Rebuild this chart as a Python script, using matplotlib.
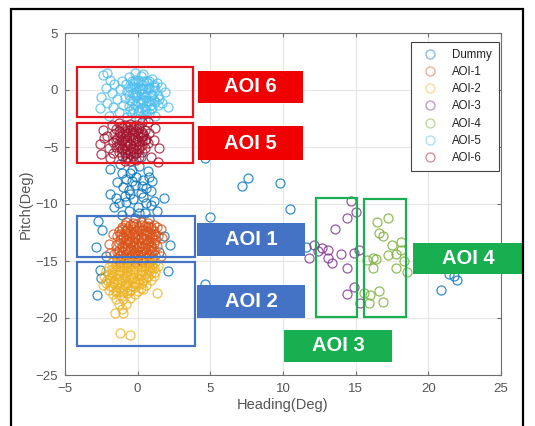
import matplotlib
matplotlib.use("Agg")
import matplotlib.pyplot as plt
from matplotlib.patches import Rectangle
import numpy as np

plt.rcParams['font.family'] = ['Liberation Sans', 'DejaVu Sans']

# ---------------- data (heading, pitch) ----------------
series_names = ["Dummy", "AOI-1", "AOI-2", "AOI-3", "AOI-4", "AOI-5", "AOI-6"]
series_colors = ["#0072BD", "#D95319", "#EDB120", "#7E2F8E", "#77AC30", "#4DBEEE", "#A2142F"]

dummy_pts = [
    (-1.9, -6.9), (-0.5, -7.3), (0.7, -7.1), (-1.2, -6.5), (0.1, -6.7), (-0.8, -7.8), (0.4, -7.9),
    (-0.2, -8.3), (1.0, -8.0), (-1.4, -8.1), (0.3, -8.4), (-0.6, -8.8), (0.9, -8.9), (-1.9, -9.1),
    (-0.9, -9.3), (-0.3, -9.6), (0.4, -9.4), (1.8, -9.5), (1.1, -9.7), (-1.3, -9.9), (0.9, -10.1),
    (-1.6, -10.3), (0.0, -10.3), (-0.6, -10.6), (0.5, -10.8), (1.3, -10.6), (-1.1, -11.0),
    (-0.2, -11.2), (0.8, -11.3), (-2.7, -11.5), (-2.45, -12.3), (-2.9, -13.8), (-2.8, -18.0),
    (-2.5, -16.5), (2.1, -15.9), (2.2, -13.6), (1.8, -12.8), (-2.2, -14.6), (1.5, -14.2),
    (-2.6, -15.8), (-0.7, -6.0), (0.2, -5.9), (-1.0, -8.5), (0.6, -9.9), (-0.4, -7.0),
    (-0.1, -7.6), (0.8, -7.6), (-1.1, -7.3), (-0.4, -8.0), (0.6, -8.6), (-0.8, -9.8),
    (0.2, -9.0), (-1.5, -9.5), (0.1, -10.8), (-0.5, -9.1),
    (4.65, -6.0), (7.2, -8.4), (7.6, -7.7), (9.8, -8.2), (10.5, -10.4), (5.0, -11.1),
    (4.6, -17.0), (20.9, -17.5), (22.0, -16.7), (21.8, -16.3), (21.4, -16.1), (11.6, -13.8),
]

aoi1_pts = [
    (-0.8, -11.6), (-0.3, -11.7), (0.2, -11.55), (0.7, -11.65),
    (-1.1, -12.0), (-0.7, -12.1), (-0.3, -11.95), (0.1, -12.05), (0.5, -11.9), (0.9, -12.05), (1.3, -12.0),
    (-1.3, -12.4), (-0.9, -12.35), (-0.5, -12.45), (-0.1, -12.4), (0.3, -12.3), (0.7, -12.45), (1.1, -12.4),
    (-1.4, -12.8), (-1.0, -12.85), (-0.6, -12.75), (-0.2, -12.8), (0.2, -12.9), (0.6, -12.75), (1.0, -12.8), (1.4, -12.85),
    (-1.2, -13.2), (-0.8, -13.15), (-0.4, -13.25), (0.0, -13.2), (0.4, -13.1), (0.8, -13.25), (1.2, -13.2),
    (-1.5, -13.6), (-1.1, -13.65), (-0.7, -13.55), (-0.3, -13.6), (0.1, -13.7), (0.5, -13.55), (0.9, -13.6), (1.3, -13.65),
    (-1.3, -14.0), (-0.9, -14.05), (-0.5, -13.95), (-0.1, -14.0), (0.3, -14.1), (0.7, -13.95), (1.1, -14.0),
    (-1.6, -14.4), (-1.2, -14.45), (-0.8, -14.35), (-0.4, -14.4), (0.0, -14.5), (0.4, -14.35), (0.8, -14.4), (1.2, -14.45),
    (-1.4, -14.8), (-1.0, -14.85), (-0.6, -14.75), (-0.2, -14.8), (0.2, -14.9), (0.6, -14.75), (1.0, -14.8),
    (-1.2, -15.1), (-0.7, -15.15), (-0.2, -15.05), (0.3, -15.1), (0.8, -15.15),
    (-2.0, -13.5), (-1.9, -14.3), (1.7, -13.0), (1.6, -12.2), (-1.7, -12.6), (1.6, -14.6),
    (-0.9, -11.8), (-0.5, -11.85), (-0.1, -11.75), (0.3, -11.8), (0.7, -11.9), (1.1, -11.8),
    (-1.1, -12.2), (-0.7, -12.25), (-0.3, -12.15), (0.1, -12.2), (0.5, -12.25), (0.9, -12.2),
    (-1.2, -12.6), (-0.8, -12.55), (-0.4, -12.65), (0.0, -12.6), (0.4, -12.55), (0.8, -12.65), (1.2, -12.6),
    (-1.0, -13.0), (-0.6, -13.05), (-0.2, -12.95), (0.2, -13.0), (0.6, -13.05), (1.0, -12.95),
    (-1.3, -13.4), (-0.9, -13.45), (-0.5, -13.35), (-0.1, -13.4), (0.3, -13.45), (0.7, -13.35), (1.1, -13.4),
    (-1.1, -13.8), (-0.7, -13.85), (-0.3, -13.75), (0.1, -13.8), (0.5, -13.85), (0.9, -13.8),
    (-1.4, -14.2), (-1.0, -14.25), (-0.6, -14.15), (-0.2, -14.2), (0.2, -14.25), (0.6, -14.2), (1.0, -14.15),
    (-1.2, -14.6), (-0.8, -14.65), (-0.4, -14.55), (0.0, -14.6), (0.4, -14.65), (0.8, -14.6),
]

aoi2_pts = [
    (-1.8, -15.1), (-1.3, -15.2), (-0.8, -15.05), (-0.3, -15.15), (0.2, -15.1), (0.7, -15.2), (1.2, -15.1),
    (-2.0, -15.5), (-1.5, -15.45), (-1.0, -15.55), (-0.5, -15.5), (0.0, -15.4), (0.5, -15.55), (1.0, -15.5), (1.4, -15.45),
    (-2.2, -15.9), (-1.7, -15.95), (-1.2, -15.85), (-0.7, -15.9), (-0.2, -16.0), (0.3, -15.85), (0.8, -15.9), (1.2, -15.95),
    (-2.3, -16.3), (-1.8, -16.35), (-1.3, -16.25), (-0.8, -16.3), (-0.3, -16.4), (0.2, -16.25), (0.7, -16.3), (1.1, -16.35),
    (-2.1, -16.7), (-1.6, -16.75), (-1.1, -16.65), (-0.6, -16.7), (-0.1, -16.8), (0.4, -16.65), (0.9, -16.7),
    (-2.4, -17.1), (-1.9, -17.15), (-1.4, -17.05), (-0.9, -17.1), (-0.4, -17.2), (0.1, -17.05), (0.6, -17.1),
    (-2.0, -17.5), (-1.5, -17.55), (-1.0, -17.45), (-0.5, -17.5), (0.0, -17.6), (0.4, -17.45),
    (-1.7, -17.9), (-1.2, -17.95), (-0.7, -17.85), (-0.2, -17.9),
    (-1.5, -18.3), (-1.0, -18.35), (-0.5, -18.25),
    (-1.3, -18.8), (-0.8, -18.75),
    (-1.1, -19.2), (-1.55, -19.6), (-1.0, -19.6), (-1.2, -21.3), (-0.5, -21.5), (1.3, -17.8),
    (-1.5, -15.3), (-1.0, -15.35), (-0.5, -15.25), (0.0, -15.3), (0.5, -15.35), (1.0, -15.3),
    (-1.8, -15.7), (-1.3, -15.75), (-0.8, -15.65), (-0.3, -15.7), (0.2, -15.75), (0.7, -15.7), (1.1, -15.65),
    (-2.0, -16.1), (-1.5, -16.15), (-1.0, -16.05), (-0.5, -16.1), (0.0, -16.15), (0.5, -16.1), (0.9, -16.05),
    (-1.9, -16.5), (-1.4, -16.55), (-0.9, -16.45), (-0.4, -16.5), (0.1, -16.55), (0.6, -16.5),
    (-2.2, -16.9), (-1.7, -16.95), (-1.2, -16.85), (-0.7, -16.9), (-0.2, -16.95), (0.3, -16.9),
    (-1.7, -17.3), (-1.2, -17.35), (-0.7, -17.25), (-0.2, -17.3), (0.2, -17.35),
    (-1.5, -17.7), (-1.0, -17.75), (-0.5, -17.65),
]

aoi3_pts = [
    (14.66, -9.7), (15.0, -10.7), (14.4, -11.2), (13.6, -12.2), (13.1, -14.0), (12.4, -14.1),
    (11.8, -14.7), (13.1, -14.7), (14.0, -14.4), (14.9, -14.3), (15.2, -14.0), (14.4, -15.6),
    (14.9, -17.3), (14.4, -17.9), (15.3, -18.7), (12.7, -13.9), (13.4, -15.2), (12.1, -13.6),
]

aoi4_pts = [
    (16.5, -11.6), (17.2, -11.2), (16.6, -12.5), (16.9, -12.8), (18.1, -13.3), (16.2, -14.7),
    (16.4, -14.8), (17.2, -14.5), (17.8, -14.4), (18.1, -14.0), (16.2, -15.6), (17.8, -15.6),
    (18.5, -16.0), (16.6, -17.6), (16.0, -18.0), (15.9, -18.7), (16.9, -18.6), (15.6, -17.8),
    (18.3, -15.0), (15.8, -14.9), (17.5, -13.6),
]

aoi5_pts = [
    (-2.4, 1.3), (-1.9, 0.9), (-2.2, 0.2), (-1.6, 0.5), (-2.5, -0.6), (-1.8, -0.3), (-2.1, -1.1),
    (-1.4, -0.8), (-2.6, -1.6), (-1.7, -1.5), (-1.2, 0.1), (-1.3, -1.9), (-2.0, -2.3), (-2.1, 1.5),
    (-1.0, -1.3), (-1.1, 0.8),
    (-0.6, 1.1), (-0.2, 0.9), (0.2, 1.2), (0.6, 0.8), (1.0, 1.0), (1.3, 0.6),
    (-0.8, 0.5), (-0.4, 0.3), (0.0, 0.6), (0.4, 0.4), (0.8, 0.2), (1.2, 0.0), (1.6, 0.3),
    (-0.7, -0.1), (-0.3, -0.3), (0.1, 0.0), (0.5, -0.2), (0.9, -0.4), (1.4, -0.5), (1.9, -0.2),
    (-0.9, -0.7), (-0.5, -0.9), (-0.1, -0.6), (0.3, -0.8), (0.7, -1.0), (1.1, -0.9), (1.7, -1.1),
    (-0.6, -1.4), (-0.2, -1.3), (0.2, -1.6), (0.6, -1.4), (1.0, -1.6), (1.4, -1.3), (2.1, -1.5),
    (-0.4, -2.0), (0.0, -1.9), (0.4, -2.2), (0.8, -2.0), (1.2, -2.3), (-0.7, -2.4), (0.1, -2.6),
    (0.5, -2.5), (0.3, 0.1), (0.7, 0.6), (-0.1, -0.2), (0.5, -0.6), (0.9, -1.3), (-0.3, 0.6),
    (1.1, 0.4), (0.2, -1.1), (-0.5, -1.8), (0.6, -1.8), (1.5, -0.8), (-0.2, 1.5), (0.4, 1.4),
    (-0.4, 0.8), (0.0, 0.85), (0.4, 0.75), (0.8, 0.8),
    (-0.5, 0.2), (-0.1, 0.25), (0.3, 0.15), (0.7, 0.2), (1.1, 0.25),
    (-0.6, -0.4), (-0.2, -0.45), (0.2, -0.35), (0.6, -0.4), (1.0, -0.45),
    (-0.4, -1.0), (0.0, -1.05), (0.4, -0.95), (0.8, -1.0), (1.2, -1.05),
    (-0.3, -1.7), (0.1, -1.75), (0.5, -1.65), (0.9, -1.7),
]

aoi6_pts = [
    (-1.3, -2.9), (-0.9, -3.1), (-0.5, -2.95), (-0.1, -3.05), (0.3, -2.85),
    (-1.5, -3.45), (-1.1, -3.35), (-0.7, -3.5), (-0.3, -3.4), (0.1, -3.3), (0.5, -3.5),
    (-1.6, -3.85), (-1.2, -3.75), (-0.8, -3.9), (-0.4, -3.8), (0.0, -3.7), (0.4, -3.85), (0.8, -3.8),
    (-1.4, -4.2), (-1.0, -4.3), (-0.6, -4.15), (-0.2, -4.25), (0.2, -4.1), (0.6, -4.3),
    (-1.7, -4.6), (-1.3, -4.65), (-0.9, -4.55), (-0.5, -4.7), (-0.1, -4.6), (0.3, -4.5), (0.7, -4.65),
    (-1.5, -5.0), (-1.1, -5.1), (-0.7, -4.95), (-0.3, -5.05), (0.1, -5.0), (0.5, -5.1),
    (-1.3, -5.4), (-0.9, -5.45), (-0.5, -5.35), (-0.1, -5.5), (0.3, -5.4),
    (-1.1, -5.8), (-0.7, -5.85), (-0.3, -5.75), (0.1, -5.9),
    (-0.9, -6.2), (-0.5, -6.25), (-0.1, -6.15),
    (-2.4, -3.5), (-2.6, -4.7), (-2.0, -5.1), (-2.3, -4.2), (-1.8, -3.1), (-2.5, -5.6), (-1.9, -6.0),
    (1.1, -4.4), (1.5, -5.1), (1.2, -3.3), (0.9, -5.9), (1.4, -6.3), (0.7, -2.8), (-2.1, -4.0), (-1.7, -5.5),
    (-1.1, -3.2), (-0.7, -3.25), (-0.3, -3.15), (0.1, -3.2),
    (-1.3, -3.6), (-0.9, -3.65), (-0.5, -3.55), (-0.1, -3.6), (0.3, -3.65),
    (-1.2, -4.0), (-0.8, -4.05), (-0.4, -3.95), (0.0, -4.0), (0.4, -4.05),
    (-1.5, -4.4), (-1.1, -4.45), (-0.7, -4.35), (-0.3, -4.4), (0.1, -4.45), (0.5, -4.4),
    (-1.3, -4.8), (-0.9, -4.85), (-0.5, -4.75), (-0.1, -4.8), (0.3, -4.85),
    (-1.1, -5.2), (-0.7, -5.25), (-0.3, -5.15), (0.1, -5.2),
    (-0.9, -5.6), (-0.5, -5.65), (-0.1, -5.55),
]

all_series = [dummy_pts, aoi1_pts, aoi2_pts, aoi3_pts, aoi4_pts, aoi5_pts, aoi6_pts]

x_ticks = [-5, 0, 5, 10, 15, 20, 25]
y_ticks = [-25, -20, -15, -10, -5, 0, 5]

# ---------------- annotation layout (data coords) ----------------
outline_boxes = [  # (x0, y0, x1, y1, color)
    (-4.17, 2.02, 3.81, -2.37, "#E8141C"),
    (-4.17, -2.89, 3.81, -6.40, "#E8141C"),
    (-4.17, -11.05, 3.95, -14.65, "#4472C4"),
    (-4.17, -15.09, 3.95, -22.46, "#4472C4"),
    (12.27, -9.47, 15.10, -19.91, "#1BAF55"),
    (15.58, -9.56, 18.47, -19.91, "#1BAF55"),
]
label_boxes = [  # (x0, y0, x1, y1, color, text)
    (4.15, 1.67, 11.38, -1.14, "#F00000", "AOI 6"),
    (4.15, -3.16, 11.38, -6.14, "#F00000", "AOI 5"),
    (4.08, -11.67, 11.52, -14.56, "#4472C4", "AOI 1"),
    (4.08, -17.10, 11.52, -20.00, "#4472C4", "AOI 2"),
    (10.07, -21.05, 17.50, -23.86, "#17AF4F", "AOI 3"),
    (18.95, -13.42, 26.60, -16.14, "#17AF4F", "AOI 4"),
]

# ---------------- figure ----------------
fig = plt.figure(figsize=(5.35, 4.26), dpi=100)
ax = fig.add_axes([65 / 535, (426 - 375) / 426, 436 / 535, 342 / 426])

for pts, name, col in zip(all_series, series_names, series_colors):
    arr = np.array(pts)
    ax.plot(arr[:, 0], arr[:, 1], linestyle="none", marker="o", markersize=6.5,
            markerfacecolor="none", markeredgecolor=col, markeredgewidth=0.9,
            alpha=0.8, label=name)

ax.set_xlim(-5, 25)
ax.set_ylim(-25, 5)
ax.set_xticks(x_ticks)
ax.set_yticks(y_ticks)
ax.grid(True, color="#e6e6e6", linewidth=0.8)
ax.set_axisbelow(True)
for s in ax.spines.values():
    s.set_color("#6e6e6e")
    s.set_linewidth(0.8)
ax.tick_params(direction="in", top=True, right=True, length=3, width=0.8,
               color="#6e6e6e", labelcolor="#555555", labelsize=9.5)
ax.tick_params(axis="x", pad=6)
ax.tick_params(axis="y", pad=5)
ax.set_xlabel("Heading(Deg)", fontsize=10.5, color="#555555", labelpad=2)
ax.set_ylabel("Pitch(Deg)", fontsize=10.5, color="#555555", labelpad=2)

leg = ax.legend(loc="upper right", bbox_to_anchor=((499 - 65) / 436, (375 - 42) / 342),
                fontsize=8.3, frameon=True, fancybox=False, framealpha=1,
                edgecolor="#444444", borderpad=0.6, labelspacing=0.45,
                handlelength=2.2, handletextpad=0.8, borderaxespad=0)
leg.get_frame().set_linewidth(0.8)
for t in leg.get_texts():
    t.set_color("#222222")
for h in leg.legend_handles:
    h.set_alpha(0.5)

for x0, y0, x1, y1, col in outline_boxes:
    ax.add_patch(Rectangle((x0, y1), x1 - x0, y0 - y1, fill=False, edgecolor=col,
                           linewidth=1.6, zorder=5, clip_on=False))

for x0, y0, x1, y1, col, txt in label_boxes:
    ax.add_patch(Rectangle((x0, y1), x1 - x0, y0 - y1, facecolor=col, edgecolor="none",
                           zorder=6, clip_on=False))
    ax.text((x0 + x1) / 2, (y0 + y1) / 2, txt, color="white", fontsize=14.5,
            fontweight="bold", ha="center", va="center", zorder=7, clip_on=False)

# outer frame
fig.patches.append(Rectangle((11 / 535, -0.02), (523 - 11) / 535, (426 - 9) / 426 + 0.02,
                             transform=fig.transFigure, fill=False, edgecolor="black",
                             linewidth=1.6, zorder=10))

fig.savefig("out.png", dpi=100, facecolor="white")
